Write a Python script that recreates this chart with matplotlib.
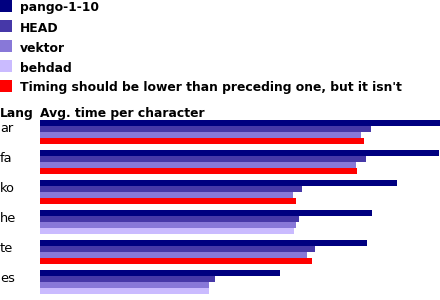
import matplotlib
matplotlib.use("Agg")
import matplotlib.pyplot as plt
from matplotlib.patches import Rectangle

# languages and average time per character (arbitrary units)
LANGS = ["ar", "fa", "ko", "he", "te", "es"]
PANGO_1_10 = [400.0, 398.7, 356.7, 331.7, 326.7, 239.7]
HEAD = [330.7, 325.7, 262.0, 259.3, 274.7, 175.0]
VEKTOR = [321.0, 315.7, 252.7, 255.7, 267.0, 169.0]
BEHDAD = [324.0, 317.0, 256.0, 253.7, 271.7, 168.5]

SERIES_NAMES = ["pango-1-10", "HEAD", "vektor", "behdad"]
SERIES_COLORS = ["#000080", "#4638a8", "#8878d8", "#cabbff"]
BAD_COLOR = "#ff0000"
BAD_LABEL = "Timing should be lower than preceding one, but it isn't"

FONT = "DejaVu Sans"
FS = 8.9

fig = plt.figure(figsize=(4.4, 3.0), dpi=100)
ax = fig.add_axes([0, 0, 1, 1])
ax.set_xlim(-40, 400)
ax.set_ylim(300, 0)
ax.axis("off")

# legend
legend_items = list(zip(SERIES_NAMES, SERIES_COLORS)) + [(BAD_LABEL, BAD_COLOR)]
for i, (name, color) in enumerate(legend_items):
    y0 = i * 20
    ax.add_patch(Rectangle((-40, y0), 12, 12, facecolor=color, edgecolor="none"))
    ax.text(-20, y0 + 11.5, name, fontsize=FS, fontweight="bold", family=FONT,
            va="baseline", ha="left")

# header
ax.text(-40, 116.5, "Lang", fontsize=FS, fontweight="bold", family=FONT, va="baseline")
ax.text(0, 116.5, "Avg. time per character", fontsize=FS, fontweight="bold",
        family=FONT, va="baseline")

series = [PANGO_1_10, HEAD, VEKTOR, BEHDAD]
bar_h = 6
for g, lang in enumerate(LANGS):
    top = 120 + g * 30
    ax.text(-40, top + 11.5, lang, fontsize=FS + 0.5, family=FONT, va="baseline")
    for k, vals in enumerate(series):
        color = SERIES_COLORS[k]
        # a timing that's not lower than the one before it gets flagged
        if k > 0 and vals[g] > series[k - 1][g]:
            color = BAD_COLOR
        ax.barh(top + k * bar_h + bar_h / 2, vals[g], height=bar_h, left=0,
                color=color, edgecolor="none")

fig.savefig("out.png", dpi=100)
